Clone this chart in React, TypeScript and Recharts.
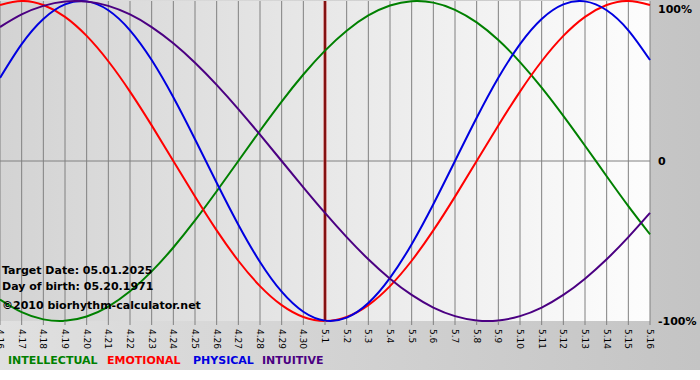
import React from 'react';
import { LineChart, Line, XAxis, YAxis, CartesianGrid, ReferenceLine } from 'recharts';

const dates = ['4.16','4.17','4.18','4.19','4.20','4.21','4.22','4.23','4.24','4.25','4.26','4.27','4.28','4.29','4.30','5.1','5.2','5.3','5.4','5.5','5.6','5.7','5.8','5.9','5.10','5.11','5.12','5.13','5.14','5.15','5.16'];

const intellectual = [-0.866,-0.945,-0.9898,-0.9989,-0.9718,-0.9096,-0.8146,-0.6901,-0.5406,-0.3717,-0.1893,0,0.1893,0.3717,0.5406,0.6901,0.8146,0.9096,0.9718,0.9989,0.9898,0.945,0.866,0.7557,0.6182,0.4582,0.2817,0.0951,-0.0951,-0.2817,-0.4582];
const emotional = [0.9749,1,0.9749,0.901,0.7818,0.6235,0.4339,0.2225,0,-0.2225,-0.4339,-0.6235,-0.7818,-0.901,-0.9749,-1,-0.9749,-0.901,-0.7818,-0.6235,-0.4339,-0.2225,0,0.2225,0.4339,0.6235,0.7818,0.901,0.9749,1,0.9749];
const physical = [0.5196,0.7308,0.8879,0.9791,0.9977,0.9423,0.817,0.6311,0.3984,0.1362,-0.1362,-0.3984,-0.6311,-0.817,-0.9423,-0.9977,-0.9791,-0.8879,-0.7308,-0.5196,-0.2698,0,0.2698,0.5196,0.7308,0.8879,0.9791,0.9977,0.9423,0.817,0.6311];
const intuitive = [0.8372,0.9158,0.9694,0.9966,0.9966,0.9694,0.9158,0.8372,0.7357,0.6142,0.4759,0.3247,0.1646,0,-0.1646,-0.3247,-0.4759,-0.6142,-0.7357,-0.8372,-0.9158,-0.9694,-0.9966,-0.9966,-0.9694,-0.9158,-0.8372,-0.7357,-0.6142,-0.4759,-0.3247];

const yTicks = [-1, 0, 1];
const yTickLabels = ['-100%', '0', '100%'];
const targetDate = '5.1';
const infoLines = ['Target Date: 05.01.2025', 'Day of birth: 05.20.1971'];
const copyright = '\u00a92010 biorhythm-calculator.net';

const series = [
  { key: 'intellectual', name: 'INTELLECTUAL', color: '#008000' },
  { key: 'emotional', name: 'EMOTIONAL', color: '#ff0000' },
  { key: 'physical', name: 'PHYSICAL', color: '#0000e0' },
  { key: 'intuitive', name: 'INTUITIVE', color: '#4b0082' },
];
const legendX = [8, 107, 193, 262];

const data = dates.map((d, i) => ({
  date: d,
  intellectual: intellectual[i],
  emotional: emotional[i],
  physical: physical[i],
  intuitive: intuitive[i],
}));

const FONT = '"DejaVu Sans", Verdana, sans-serif';

const XTick = (props: any) => {
  const { x, y, payload } = props;
  return (
    <text
      x={x}
      y={y + 2}
      transform={`rotate(90, ${x}, ${y + 2})`}
      textAnchor="start"
      dominantBaseline="central"
      fontFamily={FONT}
      fontSize={9}
      fill="#000"
    >
      {payload.value}
    </text>
  );
};

const YTick = (props: any) => {
  const { y, payload } = props;
  const idx = yTicks.indexOf(payload.value);
  const label = idx >= 0 ? yTickLabels[idx] : String(payload.value);
  const yy = Math.max(y, 7);
  return (
    <text
      x={658}
      y={yy}
      textAnchor="start"
      dominantBaseline="central"
      fontFamily={FONT}
      fontWeight="bold"
      fontSize={11}
      fill="#000"
    >
      {label}
    </text>
  );
};

export default function App() {
  return (
    <div style={{ position: 'absolute', left: 0, top: 0, width: 700, height: 380, background: '#ffffff', overflow: 'hidden' }}>
      <div style={{ position: 'absolute', left: 0, top: 0, width: 700, height: 370, background: 'linear-gradient(to right, #e0e0e0, #c4c4c4)' }} />
      <div style={{ position: 'absolute', left: 0, top: 0 }}>
        <LineChart width={700} height={370} data={data} margin={{ top: 1, right: 0, bottom: 19, left: 0 }}>
          <defs>
            <linearGradient id="plotBg" x1="0" y1="0" x2="1" y2="0">
              <stop offset="0%" stopColor="#d3d3d3" />
              <stop offset="100%" stopColor="#fdfdfd" />
            </linearGradient>
          </defs>
          <CartesianGrid horizontal={false} vertical={true} stroke="#808080" strokeDasharray="" fill="url(#plotBg)" fillOpacity={1} />
          <XAxis
            dataKey="date"
            interval={0}
            height={30}
            axisLine={false}
            tickLine={{ stroke: '#808080' }}
            tickSize={4}
            tick={<XTick />}
          />
          <YAxis
            orientation="right"
            width={50}
            domain={[-1, 1]}
            ticks={yTicks}
            axisLine={false}
            tickLine={false}
            tick={<YTick />}
          />
          <ReferenceLine y={0} stroke="#808080" strokeWidth={1} />
          <ReferenceLine x={targetDate} stroke="#c04848" strokeWidth={3} />
          <ReferenceLine x={targetDate} stroke="#700000" strokeWidth={1.5} />
          {series.map((s) => (
            <Line
              key={s.key}
              type="natural"
              dataKey={s.key}
              stroke={s.color}
              strokeWidth={2}
              dot={false}
              activeDot={false}
              isAnimationActive={false}
            />
          ))}
        </LineChart>
      </div>
      <div style={{ position: 'absolute', left: 2, top: 263, fontFamily: FONT, fontWeight: 'bold', fontSize: 11, lineHeight: '16px', color: '#000' }}>
        {infoLines.map((t) => (
          <div key={t}>{t}</div>
        ))}
        <div style={{ marginTop: 3 }}>{copyright}</div>
      </div>
      {series.map((s, i) => (
        <div
          key={s.name}
          style={{ position: 'absolute', left: legendX[i], top: 353, fontFamily: FONT, fontWeight: 'bold', fontSize: 11, lineHeight: '16px', color: s.color, whiteSpace: 'nowrap' }}
        >
          {s.name}
        </div>
      ))}
    </div>
  );
}
